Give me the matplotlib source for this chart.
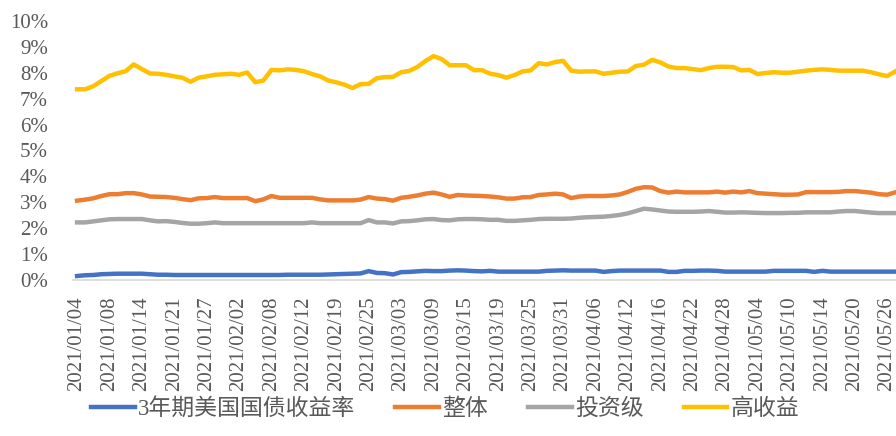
import matplotlib
matplotlib.use("Agg")
import matplotlib.pyplot as plt
import pandas as pd

# US bond-market trading days, 2021/01/04 .. 2021/05/27
bday = pd.offsets.CustomBusinessDay(holidays=["2021-01-18", "2021-02-15"])
dates = pd.date_range("2021-01-04", "2021-05-27", freq=bday)

treasury_3y = [0.15, 0.18, 0.19, 0.22, 0.23, 0.24, 0.24, 0.24, 0.24, 0.22,
               0.20, 0.20, 0.19, 0.19, 0.19, 0.19, 0.19, 0.19, 0.19, 0.19,
               0.19, 0.19, 0.19, 0.19, 0.19, 0.19, 0.20, 0.20, 0.20, 0.20,
               0.20, 0.21, 0.22, 0.23, 0.24, 0.25, 0.34, 0.27, 0.26, 0.21,
               0.30, 0.31, 0.33, 0.35, 0.34, 0.34, 0.36, 0.37, 0.36, 0.34,
               0.33, 0.35, 0.32, 0.32, 0.32, 0.32, 0.32, 0.32, 0.35, 0.36,
               0.37, 0.36, 0.36, 0.36, 0.36, 0.31, 0.34, 0.36, 0.36, 0.36,
               0.36, 0.36, 0.36, 0.31, 0.31, 0.35, 0.35, 0.36, 0.36, 0.35,
               0.32, 0.32, 0.32, 0.32, 0.32, 0.32, 0.35, 0.35, 0.35, 0.35,
               0.35, 0.31, 0.35, 0.32, 0.32, 0.32, 0.32, 0.32, 0.32, 0.32,
               0.32, 0.32]
overall = [3.06, 3.10, 3.15, 3.24, 3.31, 3.31, 3.35, 3.35, 3.30, 3.22,
           3.21, 3.20, 3.17, 3.12, 3.08, 3.15, 3.16, 3.20, 3.16, 3.16,
           3.16, 3.16, 3.04, 3.11, 3.24, 3.17, 3.17, 3.17, 3.17, 3.17,
           3.11, 3.07, 3.07, 3.07, 3.07, 3.10, 3.20, 3.14, 3.12, 3.06,
           3.17, 3.21, 3.26, 3.33, 3.37, 3.30, 3.21, 3.28, 3.26, 3.25,
           3.24, 3.22, 3.19, 3.14, 3.14, 3.19, 3.20, 3.28, 3.30, 3.33,
           3.30, 3.16, 3.22, 3.24, 3.24, 3.24, 3.26, 3.30, 3.40, 3.52,
           3.58, 3.57, 3.43, 3.37, 3.41, 3.38, 3.38, 3.38, 3.38, 3.41,
           3.37, 3.41, 3.38, 3.43, 3.35, 3.33, 3.31, 3.29, 3.29, 3.30,
           3.39, 3.39, 3.39, 3.39, 3.40, 3.43, 3.43, 3.40, 3.37, 3.31,
           3.29, 3.38]
inv_grade = [2.22, 2.22, 2.26, 2.30, 2.34, 2.35, 2.35, 2.35, 2.35, 2.30,
             2.26, 2.27, 2.24, 2.20, 2.17, 2.17, 2.19, 2.22, 2.19, 2.19,
             2.19, 2.19, 2.19, 2.19, 2.19, 2.19, 2.19, 2.19, 2.19, 2.22,
             2.19, 2.19, 2.19, 2.19, 2.19, 2.19, 2.31, 2.22, 2.22, 2.18,
             2.26, 2.27, 2.30, 2.34, 2.35, 2.31, 2.30, 2.34, 2.35, 2.35,
             2.34, 2.32, 2.32, 2.28, 2.28, 2.30, 2.32, 2.35, 2.36, 2.36,
             2.36, 2.37, 2.40, 2.42, 2.43, 2.44, 2.47, 2.51, 2.57, 2.66,
             2.75, 2.72, 2.68, 2.64, 2.63, 2.63, 2.63, 2.64, 2.66, 2.63,
             2.60, 2.60, 2.61, 2.60, 2.59, 2.58, 2.58, 2.58, 2.59, 2.59,
             2.61, 2.61, 2.61, 2.61, 2.64, 2.66, 2.66, 2.63, 2.60, 2.58,
             2.58, 2.58]
high_yield = [7.36, 7.36, 7.48, 7.68, 7.88, 7.98, 8.06, 8.32, 8.14, 7.97,
              7.96, 7.92, 7.86, 7.81, 7.65, 7.81, 7.86, 7.92, 7.94, 7.96,
              7.92, 8.01, 7.63, 7.70, 8.11, 8.09, 8.13, 8.11, 8.06, 7.95,
              7.86, 7.70, 7.63, 7.54, 7.41, 7.56, 7.57, 7.79, 7.83, 7.84,
              8.02, 8.07, 8.22, 8.45, 8.64, 8.53, 8.29, 8.29, 8.29, 8.10,
              8.10, 7.96, 7.91, 7.81, 7.91, 8.05, 8.09, 8.37, 8.32, 8.41,
              8.46, 8.08, 8.04, 8.05, 8.05, 7.96, 8.00, 8.04, 8.05, 8.26,
              8.31, 8.50, 8.40, 8.24, 8.18, 8.18, 8.14, 8.10, 8.18, 8.23,
              8.23, 8.22, 8.09, 8.11, 7.95, 7.99, 8.02, 8.00, 8.00, 8.04,
              8.08, 8.11, 8.13, 8.11, 8.08, 8.08, 8.08, 8.08, 8.02, 7.94,
              7.87, 8.05]

labels = ["3年期美国国债收益率", "整体", "投资级", "高收益"]
colors = ["#4472C4", "#ED7D31", "#A5A5A5", "#FFC000"]

serif_cjk = ["Liberation Serif", "Noto Sans CJK SC"]
txt_color = "#595959"

fig = plt.figure(figsize=(8.96, 4.36), dpi=100)
ax = fig.add_axes([0.0815, 0.358, 0.9185, 0.594])

x = list(range(len(dates)))
for series, lab, col in zip([treasury_3y, overall, inv_grade, high_yield], labels, colors):
    ax.plot(x, series, color=col, linewidth=3.2, label=lab, solid_joinstyle="round")

ax.set_xlim(-0.5, len(dates) - 0.9)
ax.set_ylim(0, 10)
ax.set_yticks(range(0, 11))
ax.set_yticklabels([f"{v}%" for v in range(0, 11)], family=serif_cjk,
                   fontsize=15, color=txt_color)
ticks = x[::4]
ax.set_xticks(ticks)
ax.set_xticklabels([dates[i].strftime("%Y/%m/%d") for i in ticks], rotation=90,
                   family=serif_cjk, fontsize=15, color=txt_color)
ax.tick_params(axis="both", length=0)
ax.tick_params(axis="y", pad=18)
ax.tick_params(axis="x", pad=12)

for side in ["top", "right", "left"]:
    ax.spines[side].set_visible(False)
ax.spines["bottom"].set_color("#D9D9D9")
ax.spines["bottom"].set_linewidth(1.2)

leg = fig.legend(loc="lower center", bbox_to_anchor=(0.497, -0.01), ncol=4, frameon=False,
                 prop={"family": serif_cjk, "size": 16.5}, handlelength=1.9,
                 handletextpad=0.15, columnspacing=1.75, labelcolor=txt_color)
for line in leg.get_lines():
    line.set_linewidth(3.2)

fig.savefig("out.png", dpi=100)
